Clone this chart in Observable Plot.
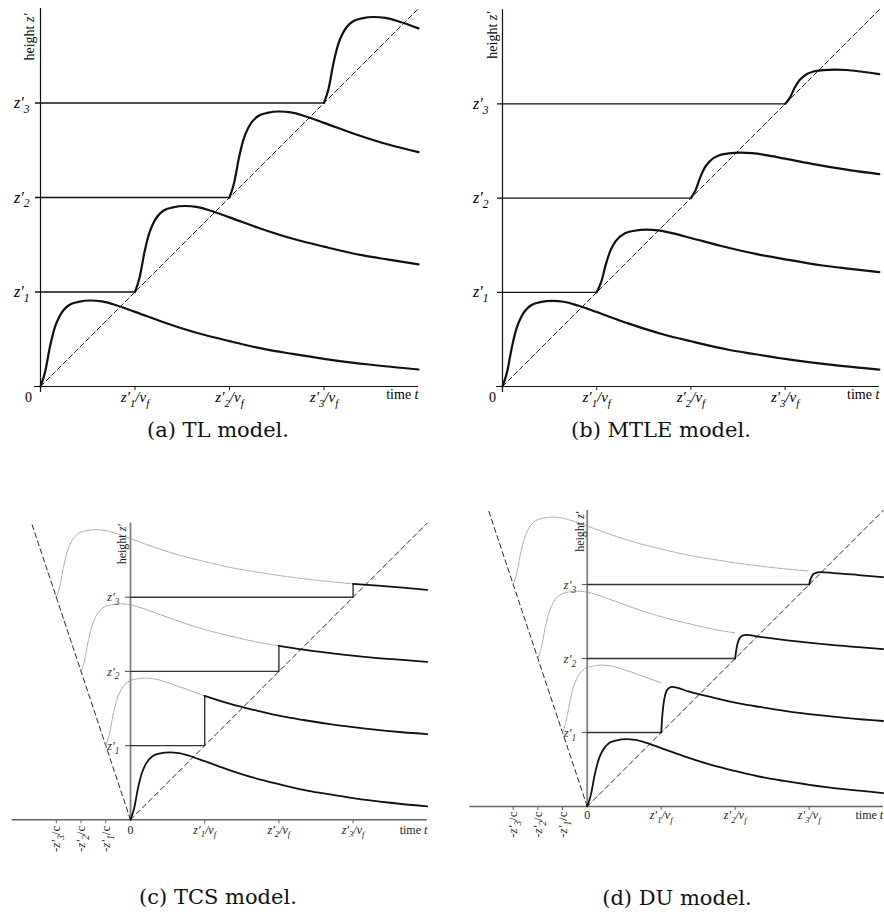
<!DOCTYPE html>
<html><head><meta charset="utf-8">
<script src="https://cdn.jsdelivr.net/npm/d3@7"></script>
<script src="https://cdn.jsdelivr.net/npm/@observablehq/plot@0.6"></script>
<style>
body{margin:0;background:#fff;}
#fig{position:relative;width:884px;height:918px;overflow:hidden;background:#fff;}
.cap{position:absolute;font-family:"DejaVu Serif",serif;font-size:21px;line-height:1;white-space:nowrap;transform:translate(-50%,-50%);color:#111;}
</style></head><body><div id="fig"></div>
<script>
// ---------- data (units: z'_1 for height, z'_1/v_f for time) ----------
const levels = [0, 1, 2, 3];                       // z'_k / z'_1
const waveT = [0, 0.05, 0.1, 0.15, 0.2, 0.3, 0.4, 0.53, 0.65, 0.8, 1.0, 1.333, 1.7, 2.0, 2.4, 2.667, 3.0, 3.5, 4.0, 4.333, 4.667, 5.0];
const waveI = [0, 0.16, 0.42, 0.62, 0.74, 0.86, 0.895, 0.91, 0.9, 0.86, 0.79, 0.67, 0.555, 0.48, 0.39, 0.345, 0.293, 0.23, 0.18, 0.155, 0.128, 0.10];
const mtleAmp = [1, 0.73, 0.53, 0.40];              // MTLE peak attenuation per level
const cRatio = 3;                                   // c / v_f (from -z'_k/c tick spacing)
const duDt = [0, 0.01, 0.02, 0.04, 0.06, 0.1, 0.15]; // DU rise after the front
const duFrac = [0, 0.25, 0.43, 0.68, 0.82, 0.94, 0.99];
const yLabels = ["*z′_1*", "*z′_2*", "*z′_3*"];
const xLabels = ["*z′_1/v_f*", "*z′_2/v_f*", "*z′_3/v_f*"];
const negLabels = ["-*z′_1*/c", "-*z′_2*/c", "-*z′_3*/c"];
const captions = ["(a) TL model.", "(b) MTLE model.", "(c) TCS model.", "(d) DU model."];
const zeroLabel = "0", timeLabel = "time *t*", heightLabel = "height *z′*";

// ---------- layout ----------
const layout = {
  a: {left: 0,   top: 0,   width: 440, height: 420, x0: 40,    y0: 386,   unit: 94.5, xmin: 0},
  b: {left: 440, top: 0,   width: 444, height: 420, x0: 62,    y0: 386,   unit: 94.2, xmin: 0},
  c: {left: 0,   top: 460, width: 440, height: 400, x0: 130,   y0: 359.3, unit: 74.2, xmin: -1.594},
  d: {left: 440, top: 460, width: 444, height: 400, x0: 146.7, y0: 346,   unit: 74,   xmin: -1.586}
};
const capPos = [[218, 430], [661, 430], [218, 897], [677, 898]];
const ink = "#111";
const up = levels.slice(1);

function makePlot(cfg, marks) {
  const u = cfg.unit;
  const svg = Plot.plot({
    width: cfg.width, height: cfg.height,
    x: {domain: [cfg.xmin, 4], range: [cfg.x0 + cfg.xmin * u, cfg.x0 + 4 * u], axis: null},
    y: {domain: [0, 4], range: [cfg.y0, cfg.y0 - 4 * u], axis: null},
    style: {fontFamily: "'Liberation Serif', serif", background: "transparent", overflow: "visible"},
    marks
  });
  svg.style.position = "absolute";
  svg.style.left = cfg.left + "px";
  svg.style.top = cfg.top + "px";
  return svg;
}

function topMarks(cfg, amp, o) {
  const u = cfg.unit;
  const rows = [];
  levels.forEach((k, j) => waveT.forEach((dt, i) => {
    if (k + dt <= 4 + 1e-6) rows.push({k, t: k + dt, v: k + amp[j] * waveI[i]});
  }));
  return [
    Plot.ruleY([0], {x1: -6 / u, x2: 4, stroke: ink, strokeWidth: 1.2}),
    Plot.ruleX([0], {y1: -6 / u, y2: 4, stroke: ink, strokeWidth: 1.2}),
    Plot.ruleY(up, {y: d => d, x1: -5 / u, x2: d => d, stroke: ink, strokeWidth: 1.3}),
    Plot.ruleX(up, {x: d => d, y1: -4 / u, y2: 0, stroke: ink, strokeWidth: 1}),
    Plot.line([[0, 0], [4, 4]], {stroke: ink, strokeWidth: 0.9, strokeDasharray: "5,3"}),
    Plot.line(rows, {x: "t", y: "v", z: "k", curve: "monotone-x", stroke: ink, strokeWidth: 2.2}),
    Plot.text(up, {x: 0, y: d => d, text: (d, i) => yLabels[i], dx: o.ydx, textAnchor: "end", fontSize: 16}),
    Plot.text(up, {x: d => d, y: 0, text: (d, i) => xLabels[i], dy: 11, fontSize: 15}),
    Plot.text([zeroLabel], {x: 0, y: 0, text: d => d, dx: o.zdx, dy: 11, fontSize: 14}),
    Plot.text([timeLabel], {x: 4, y: 0, text: d => d, textAnchor: "end", dy: 8, fontSize: 14}),
    Plot.text([heightLabel], {x: 0, y: 4, text: d => d, rotate: -90, textAnchor: "end", dx: o.hdx, dy: o.hdy, fontSize: 14})
  ];
}

function bottomMarks(cfg, du, o) {
  const u = cfg.unit, g = "#666";
  const waveAt = d3.scaleLinear(waveT, waveI);
  const riseEnd = duDt[duDt.length - 1];
  const dotted = [], solid = [], steps = [];
  levels.forEach(k => {
    const lag = k / cRatio, front = k + lag;
    waveT.forEach((dt, i) => {
      if (k > 0 && dt <= front + (du ? riseEnd : 0) + 0.01) dotted.push({k, t: dt - lag, v: k + waveI[i]});
    });
    if (k > 0) {
      steps.push({k, t: 0, v: k}, {k, t: k, v: k});
      if (!du) steps.push({k, t: k, v: k + waveAt(front)});
    }
    if (du && k > 0) {
      duDt.forEach((d, j) => solid.push({k, t: k + d, v: k + waveAt(front + d) - (1 - duFrac[j]) * waveAt(front)}));
      waveT.forEach((dt, i) => {
        if (dt > front + riseEnd && dt - lag <= 4 + 1e-3) solid.push({k, t: dt - lag, v: k + waveI[i]});
      });
    } else {
      waveT.forEach((dt, i) => {
        if (dt >= front - 1e-2 && dt - lag <= 4 + 1e-3) solid.push({k, t: dt - lag, v: k + waveI[i]});
      });
    }
  });
  const neg = up.map(k => -k / cRatio);
  return [
    Plot.ruleY([0], {x1: cfg.xmin, x2: 4, stroke: g, strokeWidth: 1.4}),
    Plot.ruleX([0], {y1: 0, y2: 4, stroke: "#808080", strokeWidth: 1.8}),
    Plot.ruleX(neg, {x: d => d, y1: -4 / u, y2: 0, stroke: g, strokeWidth: 1}),
    Plot.ruleX(up, {x: d => d, y1: -4 / u, y2: 0, stroke: g, strokeWidth: 1}),
    Plot.ruleY(up, {y: d => d, x1: -5 / u, x2: 0, stroke: g, strokeWidth: 1.2}),
    Plot.line([[0, 0], [4, 4]], {stroke: ink, strokeWidth: 0.9, strokeDasharray: "5,3.5"}),
    Plot.line([[0, 0], [-4 / cRatio, 4]], {stroke: ink, strokeWidth: 0.9, strokeDasharray: "5,3.5"}),
    Plot.line(dotted, {x: "t", y: "v", z: "k", curve: "monotone-x", stroke: "#8a8a8a", strokeWidth: 0.9, strokeDasharray: "1,1.3"}),
    Plot.line(steps, {x: "t", y: "v", z: "k", stroke: "#333", strokeWidth: 1.4}),
    Plot.line(solid, {x: "t", y: "v", z: "k", curve: "monotone-x", stroke: ink, strokeWidth: 1.8}),
    Plot.text(up, {x: 0, y: d => d, text: (d, i) => yLabels[i], dx: o.ydx, textAnchor: "end", fontSize: 13, fill: "#333"}),
    Plot.text(up, {x: d => d, y: 0, text: (d, i) => xLabels[i], dy: o.xdy, fontSize: 12, fill: "#222"}),
    Plot.text(neg, {x: d => d, y: 0, text: (d, i) => negLabels[i], rotate: -90, textAnchor: "end", dy: o.ndy, fontSize: 13, fill: "#222"}),
    Plot.text([zeroLabel], {x: 0, y: 0, text: d => d, dy: o.xdy, fontSize: 12, fill: "#222"}),
    Plot.text([timeLabel], {x: 4, y: 0, text: d => d, textAnchor: "end", dy: o.xdy, fontSize: 12, fill: "#222"}),
    Plot.text([heightLabel], {x: 0, y: 4, text: d => d, rotate: -90, textAnchor: "end", dx: o.hdx, dy: 1, fontSize: 12, fill: "#222"})
  ];
}

// rich text: *...* italic, _x subscript
function richify(root) {
  const ns = "http://www.w3.org/2000/svg";
  root.querySelectorAll("text").forEach(t => {
    const s = t.textContent;
    if (!/[_*]/.test(s)) return;
    const fs = parseFloat(getComputedStyle(t).fontSize) || 12;
    while (t.firstChild) t.removeChild(t.firstChild);
    let italic = false, shift = 0, buf = "";
    const add = (str, sub) => {
      if (!str) return;
      const sp = document.createElementNS(ns, "tspan");
      sp.textContent = str;
      if (italic) sp.setAttribute("font-style", "italic");
      const target = sub ? fs * 0.3 : 0;
      if (target !== shift) { sp.setAttribute("dy", (target - shift).toFixed(2)); shift = target; }
      if (sub) sp.setAttribute("font-size", (fs * 0.72).toFixed(2));
      t.appendChild(sp);
    };
    for (let i = 0; i < s.length; i++) {
      const ch = s[i];
      if (ch === "*") { add(buf, false); buf = ""; italic = !italic; }
      else if (ch === "_") { add(buf, false); buf = ""; add(s[i + 1], true); i++; }
      else buf += ch;
    }
    add(buf, false);
  });
}

const fig = document.getElementById("fig");
fig.appendChild(makePlot(layout.a, topMarks(layout.a, levels.map(() => 1), {ydx: -11, zdx: -12, hdx: -11, hdy: 5})));
fig.appendChild(makePlot(layout.b, topMarks(layout.b, mtleAmp, {ydx: -14, zdx: -10, hdx: -10, hdy: 2})));
fig.appendChild(makePlot(layout.c, bottomMarks(layout.c, false, {ydx: -11, xdy: 10, ndy: 6, hdx: -8})));
fig.appendChild(makePlot(layout.d, bottomMarks(layout.d, true, {ydx: -11, xdy: 9, ndy: 5, hdx: -7})));
richify(fig);

captions.forEach((c, i) => {
  const div = document.createElement("div");
  div.className = "cap";
  div.textContent = c;
  div.style.left = capPos[i][0] + "px";
  div.style.top = capPos[i][1] + "px";
  fig.appendChild(div);
});
</script></body></html>
